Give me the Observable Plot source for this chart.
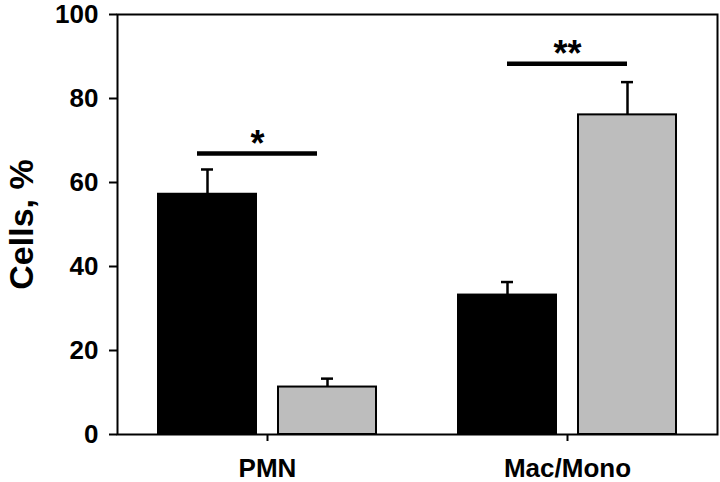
<!DOCTYPE html>
<html><head><meta charset="utf-8">
<script src="https://cdn.jsdelivr.net/npm/d3@7"></script>
<script src="https://cdn.jsdelivr.net/npm/@observablehq/plot@0.6"></script>
<style>
body{margin:0;background:#fff;font-family:"Liberation Sans",Arial,sans-serif}
#chart svg{display:block}
</style>
</head><body><div id="chart"></div>
<script>
const groups = ["PMN", "Mac/Mono"];
const seriesNames = ["Series 1", "Series 2"];
const series1Values = [57.2, 33.2];
const series1Errors = [5.9, 3.1];
const series2Values = [11.3, 76.1];
const series2Errors = [2.0, 7.8];
const sigValues = [66.9, 88.3];
const sigLabels = ["*", "**"];
const yTicks = [0, 20, 40, 60, 80, 100];
const yLabel = "Cells, %";
const seriesColors = ["#000000", "#bdbdbd"];

const rows = [];
groups.forEach((g, i) => {
  rows.push({group: g, series: seriesNames[0], value: series1Values[i], err: series1Errors[i]});
  rows.push({group: g, series: seriesNames[1], value: series2Values[i], err: series2Errors[i]});
});
const sig = groups.map((g, i) => ({group: g, y: sigValues[i], label: sigLabels[i]}));

const sigMarks = (grp, dx) => [
  Plot.ruleY(sig, {filter: d => d.group === grp, fx: "group", y: "y",
    x1: () => seriesNames[0], x2: () => seriesNames[1],
    insetLeft: 49, insetRight: 49, dx, stroke: "#000", strokeWidth: 4.5}),
  Plot.text(sig, {filter: d => d.group === grp, fx: "group", y: "y", text: "label",
    lineAnchor: "bottom", dx, dy: 2, fontSize: 36, fontWeight: "bold", fill: "#000"})
];

const chart = Plot.plot({
  width: 720,
  height: 482,
  marginLeft: 116,
  marginRight: 3,
  marginTop: 14,
  marginBottom: 48,
  style: {fontFamily: "'Liberation Sans', Arial, sans-serif", color: "#000", background: "#fff"},
  fx: {domain: groups, paddingInner: 0, paddingOuter: 0, label: null},
  x: {domain: seriesNames, paddingInner: 0.182, paddingOuter: 0.335, axis: null},
  y: {domain: [0, 100], label: null},
  color: {domain: seriesNames, range: seriesColors},
  marks: [
    Plot.ruleX(rows, {fx: "group", x: "series", y1: "value", y2: d => d.value + d.err, stroke: "#000", strokeWidth: 2.5}),
    Plot.tickY(rows, {fx: "group", x: "series", y: d => d.value + d.err, insetLeft: 43, insetRight: 43, stroke: "#000", strokeWidth: 2.5}),
    Plot.barY(rows, {fx: "group", x: "series", y: "value", fill: "series", stroke: "#000", strokeWidth: 2}),
    ...sigMarks(groups[0], -10),
    ...sigMarks(groups[1], 0),
    Plot.frame({facet: "super", stroke: "#000", strokeWidth: 2}),
    Plot.axisY({facetAnchor: "left", ticks: yTicks, tickSize: 8, tickPadding: 11, tickFormat: d3.format("d"),
      fontSize: 26, fontWeight: "bold", strokeWidth: 2, label: null}),
    Plot.text([yLabel], {facet: "super", frameAnchor: "left", textAnchor: "middle", rotate: -90, dx: -95,
      fontSize: 34, fontWeight: "bold", fill: "#000"}),
    Plot.axisFx({anchor: "bottom", tickSize: 7, tickPadding: 17, fontSize: 26, fontWeight: "bold", strokeWidth: 2, label: null})
  ]
});
document.getElementById("chart").appendChild(chart);
</script>
</body></html>
